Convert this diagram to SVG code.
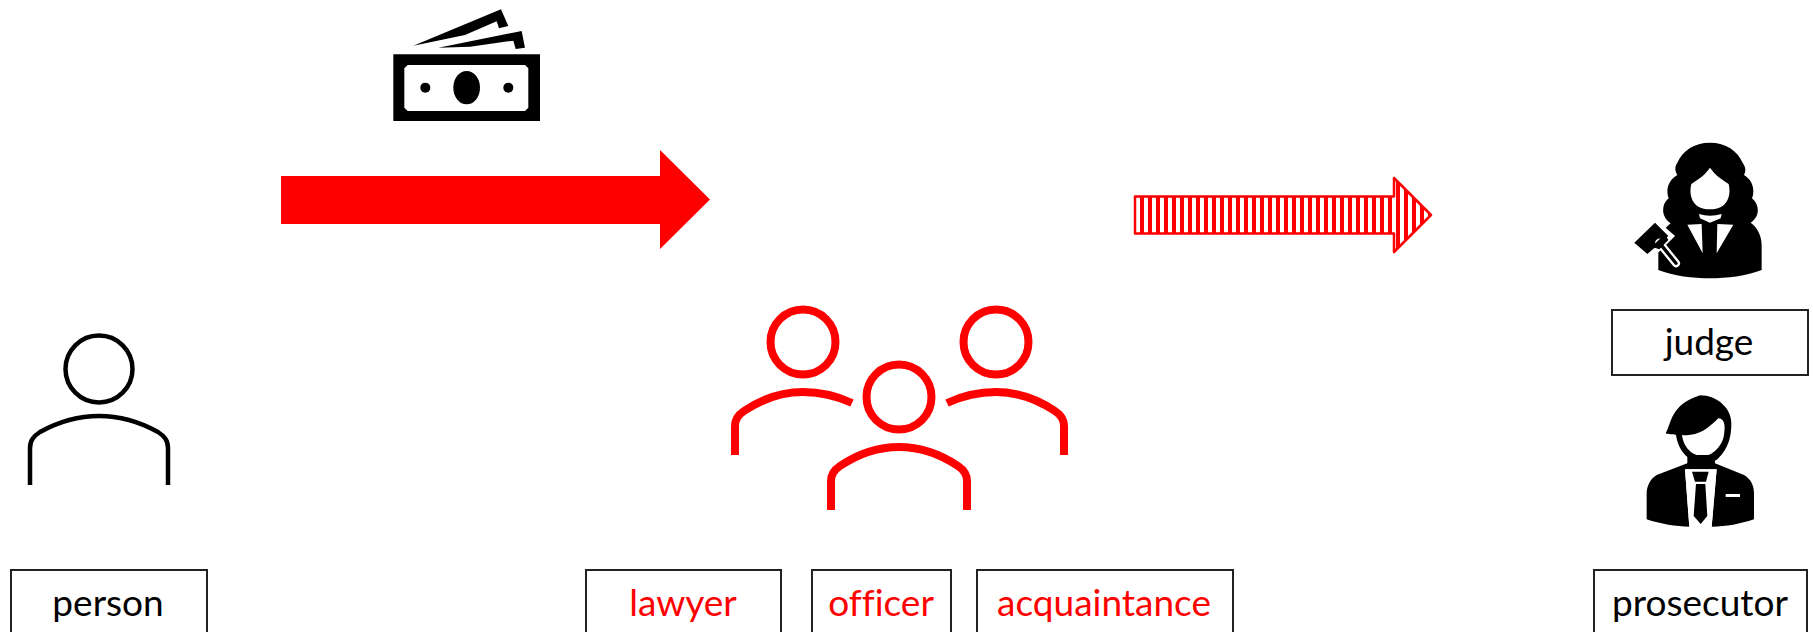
<svg xmlns="http://www.w3.org/2000/svg" width="1813" height="632" viewBox="0 0 1813 632">
<style>
.box{fill:#fff;stroke:#222;stroke-width:2}
.t{font-family:"Lato","Open Sans",sans-serif;font-size:37px;text-anchor:middle;font-variant-ligatures:none}
.k{fill:#000}.w{fill:#fff}
.ro{fill:none;stroke:#f00;stroke-width:8}
.ko{fill:none;stroke:#000;stroke-width:4.5}
</style>
<defs>
<pattern id="stripes" patternUnits="userSpaceOnUse" x="1140" y="0" width="8" height="8"><rect width="8" height="8" fill="#fff"/><rect width="4" height="8" fill="#f00"/></pattern>
</defs>
<rect width="1813" height="632" fill="#fff"/>
<g id="connectors">
<path id="payment-arrow" fill="#f00" d="M281 176H660V150L710 199.500L660 249V224H281Z"/>
<path id="forward-arrow" fill="url(#stripes)" stroke="#f00" stroke-width="2.500" stroke-linejoin="round" d="M1135 196.500H1394V178L1431 215L1394 252V233.500H1135Z"/>
</g>
<g id="money" transform="translate(370 0) scale(.3333)">
<path class="k" fill-rule="evenodd" d="M70 163H510V363H70ZM113 195L103 205V323L113 333H465L475 323V205L465 195Z"/>
<ellipse class="k" cx="290" cy="263" rx="40" ry="50"/>
<circle class="k" cx="166" cy="263" r="15"/><circle class="k" cx="415" cy="263" r="15"/>
<path class="k" d="M130 137L393 28L415 78L387 85L380 64L285 105Z"/>
<path class="k" d="M205 143L455 93L465 143L437 147L430 122L300 140Z"/>
</g>
<g id="person">
<circle class="ko" cx="99" cy="369" r="33.500"/>
<path class="ko" d="M30 485V448C30 440 34 436 40 432C58 422 78 416 99 416C120 416 140 422 158 432C164 436 168 440 168 448V485"/>
<rect class="box" x="11" y="570" width="196" height="70"/>
<text class="t" x="108" y="616" fill="#000">person</text>
</g>
<g id="group">
<circle class="ro" cx="803" cy="342" r="32.500"/>
<circle class="ro" cx="996" cy="342" r="32.500"/>
<circle class="ro" cx="899" cy="397" r="32.500"/>
<path class="ro" d="M735 455V426C735 419 738 415 744 411C762 399 782 392 803 392C821 392 837 396 852 403"/>
<path class="ro" d="M1064 455V426C1064 419 1061 415 1055 411C1037 399 1017 392 996 392C978 392 962 396 947 403"/>
<path class="ro" d="M831 510V481C831 474 834 470 840 466C858 454 878 447 899 447C920 447 940 454 958 466C964 470 967 474 967 481V510"/>
</g>
<g id="lawyer"><rect class="box" x="586" y="570" width="195" height="70"/><text class="t" x="683" y="616" fill="#f00">lawyer</text></g>
<g id="officer"><rect class="box" x="812" y="570" width="139" height="70"/><text class="t" x="881" y="616" fill="#f00">officer</text></g>
<g id="acquaintance"><rect class="box" x="977" y="570" width="256" height="70"/><text class="t" x="1104" y="616" fill="#f00">acquaintance</text></g>
<g id="judge">
<g transform="translate(1600 130) scale(.3333)">
<path class="k" d="M330 38C378 38 412 62 428 98C438 112 438 124 432 135C458 150 466 180 456 205C480 225 480 260 452 278C470 290 485 315 485 345V420C440 438 380 445 330 445C280 445 220 438 175 420V345C175 320 190 298 212 280C184 262 182 225 206 205C196 178 206 150 232 135C224 122 224 110 232 98C248 62 282 38 330 38Z"/>
<path class="w" d="M330 113C345 135 365 148 386 162C394 195 385 238 330 238C275 238 266 195 274 162C295 148 315 135 330 113Z"/>
<path class="w" d="M297 252Q330 262 365 252L362 265L330 278L300 265Z"/>
<path class="w" d="M262 284L305 282L308 370ZM400 284L352 282L350 370Z"/>
<path class="w" stroke="#fff" stroke-width="10" d="M100 337L165 272L218 318L150 385Z"/>
<path class="k" d="M103 338L165 278L205 318L142 372Z"/>
<path d="M178 338L228 400" stroke="#fff" stroke-width="24" stroke-linecap="round"/>
<path d="M178 338L228 400" stroke="#000" stroke-width="10" stroke-linecap="round"/>
<path class="k" d="M155 350L195 312L205 330L178 358Z"/>
</g>
<rect class="box" x="1612" y="310" width="196" height="65"/>
<text class="t" x="1709" y="355" fill="#000">judge</text>
</g>
<g id="prosecutor">
<g transform="translate(1600 380) scale(.3333)">
<path class="k" d="M300 46C352 46 394 85 394 130C394 165 388 205 352 238C340 246 330 248 310 248C270 248 236 218 228 165C218 160 205 165 197 160C215 130 210 75 300 46Z"/>
<path class="w" d="M355 115C370 115 378 130 372 165C368 195 340 228 308 228C275 228 250 200 246 165C290 170 320 150 355 115Z"/>
<path class="k" d="M262 225V250L170 285C150 297 140 320 140 340V418C180 432 230 440 268 440L255 268H350L335 440C380 440 420 432 462 418V340C462 315 452 297 432 285L345 250V225Z"/>
<path class="w" d="M255 268H350L335 440H268Z"/>
<path class="k" d="M276 275H326L318 305H285Z"/>
<path class="k" d="M288 312H316L322 408L302 432L281 408Z"/>
<rect class="w" x="377" y="342" width="43" height="9"/>
</g>
<rect class="box" x="1594" y="570" width="213" height="70"/>
<text class="t" x="1700" y="616" fill="#000">prosecutor</text>
</g>
</svg>
